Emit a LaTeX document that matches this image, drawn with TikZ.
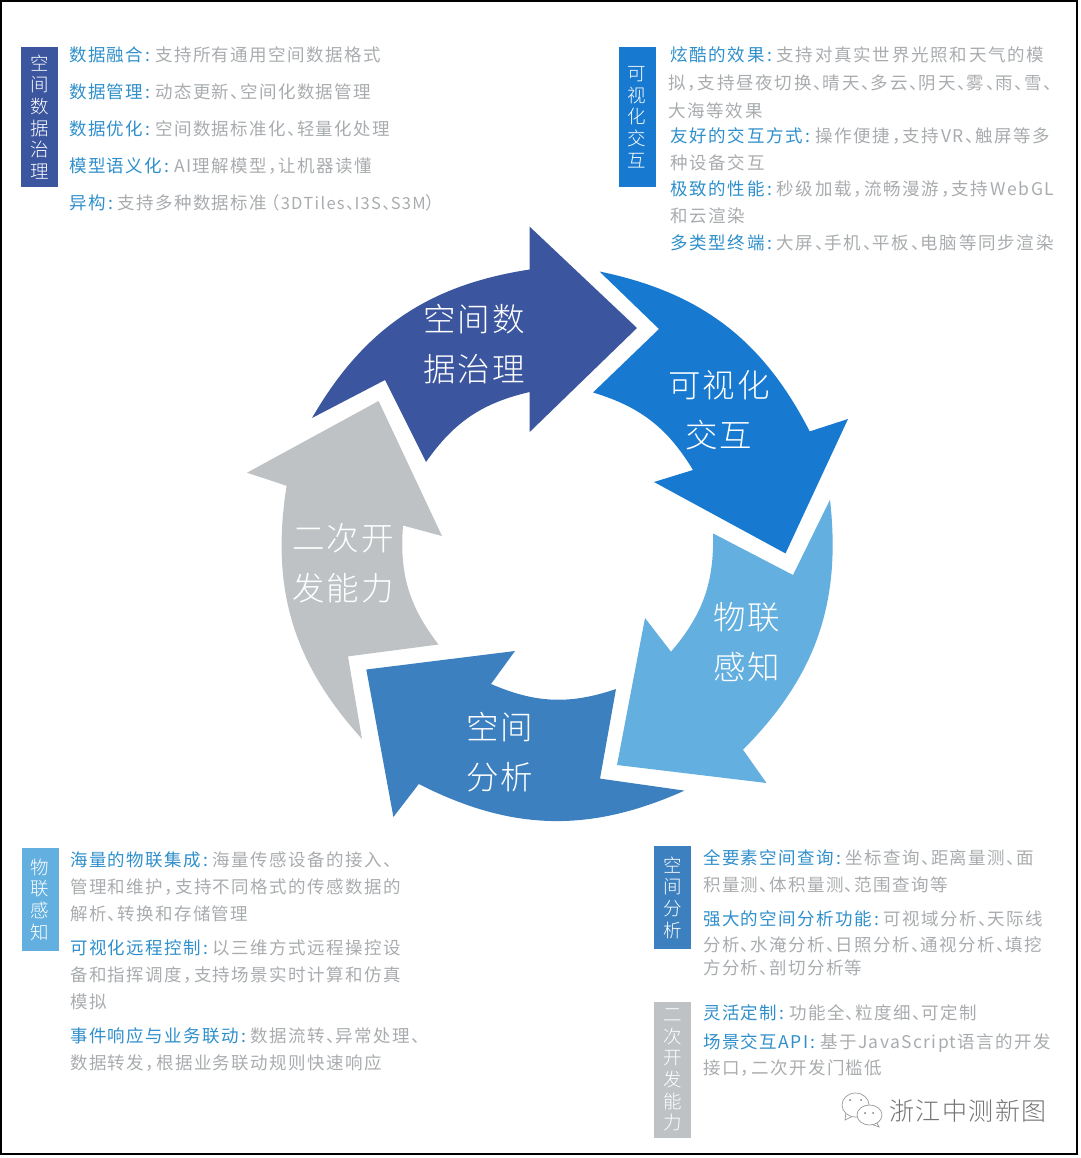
\documentclass[tikz,border=0pt]{standalone}
\usepackage{fontspec}
\usepackage{xcolor}
\usetikzlibrary{positioning}
\newfontfamily\cjk[LetterSpace=8]{Noto Sans CJK SC}
\newfontfamily\cjkwide[LetterSpace=10]{Noto Sans CJK SC}
\newfontfamily\cjkbig[LetterSpace=6]{Noto Sans CJK SC Light}
\definecolor{navy}{HTML}{3B559F}
\definecolor{vivid}{HTML}{1779D0}
\definecolor{sky}{HTML}{63AFDF}
\definecolor{steel}{HTML}{3D80BF}
\definecolor{silver}{HTML}{BEC2C4}
\definecolor{headc}{HTML}{2F8FCB}
\definecolor{bodyc}{HTML}{A9ACAE}
\newcommand{\hd}[1]{\textcolor{headc}{#1\kern2.5pt:}\kern4.5pt}
\catcode`、=\active
\def、{\char"3001\kern-8pt\relax}
\catcode`，=\active
\def，{\char"FF0C\kern-7pt\relax}
\begin{document}
\begin{tikzpicture}[x=1pt,y=-1pt,
  item/.style={anchor=base west,inner sep=0pt,text=bodyc,font=\cjk\fontsize{17.5}{21}\selectfont},
  wideitem/.style={item,font=\cjkwide\fontsize{17.5}{21}\selectfont},
  tagbox/.style={fill=#1,text=white,inner sep=0pt,align=center,minimum width=37pt,font=\cjkbig\fontsize{18.5}{21.7}\selectfont},
  biglabel/.style={text=white,align=center,inner sep=0pt,font=\cjkbig\fontsize{32.5}{50}\selectfont},
  wm/.style={draw=black!40,fill=white,line width=.7pt}]
\useasboundingbox (0,0) rectangle (1080,1158);
\draw[line width=2pt] (1,1) rectangle (1077,1154);
\fill[navy] (312,418) to[bend left=25.6] (529.7,269.5) -- (529.7,226.7) -- (637,328) -- (529.7,432) -- (529.7,392) to[bend right=21] (426,462) -- (385,380) -- cycle;
\fill[vivid] (599.5,271.5) to[bend left=25.6] (809.7,431.4) -- (848,419) -- (785.5,553.4) -- (654,482) -- (693,470) to[bend right=21] (593,392.5) -- (659,329) -- cycle;
\fill[sky] (830,499.7) to[bend left=25.6] (743,749.7) -- (766.5,783) -- (617,765) -- (645,618) -- (671,651.7) to[bend right=21] (713,533.4) -- (793,575) -- cycle;
\fill[steel] (684.5,790.6) to[bend left=25.6] (418.8,784) -- (393.4,817) -- (366.3,669.5) -- (515,651) -- (491,684) to[bend right=21] (616,689) -- (600,778.6) -- cycle;
\fill[silver] (362,739) to[bend left=25.6] (286.6,485.8) -- (247,472.7) -- (378.6,401) -- (442,536) -- (403,525.5) to[bend right=21] (438.5,644.5) -- (348,656.4) -- cycle;
\node[biglabel] (gov) at (474,344) {空间数\\据治理};
\node[biglabel] (vis) at (719,410) {可视化\\交互};
\node[biglabel] (iot) at (747,642) {物联\\感知};
\node[biglabel] (ana) at (500,752) {空间\\分析};
\node[biglabel] (dev) at (343,563) {二次开\\发能力};
\node[tagbox=navy,minimum height=140pt] (tgov) at (39.5,117) {空\\间\\数\\据\\治\\理};
\node[tagbox=vivid,minimum height=140pt] (tvis) at (637,117) {可\\视\\化\\交\\互};
\node[tagbox=sky,minimum height=103pt] (tiot) at (40,899.5) {物\\联\\感\\知};
\node[tagbox=steel,minimum height=103pt] (tana) at (672.5,897.5) {空\\间\\分\\析};
\node[tagbox=silver,minimum height=136pt] (tdev) at (672.5,1070) {二\\次\\开\\发\\能\\力};
\foreach \i/\x/\y/\t in {1/69/61.5/{\hd{数据融合}支持所有通用空间数据格式},
  2/69/98.5/{\hd{数据管理}动态更新、空间化数据管理},
  3/69/135.5/{\hd{数据优化}空间数据标准化、轻量化处理},
  4/69/172.5/{\hd{模型语义化}AI理解模型，让机器读懂},
  5/69/209.5/{\hd{异构}支持多种数据标准\kern-5pt（\kern1pt{\fontsize{16.5}{21}\selectfont 3DTiles、I3S、S3M}）}}
  \node[item] (a\i) at (\x,\y) {\t};
\foreach \i/\x/\y/\t in {1/670/61.5/{\hd{炫酷的效果}支持对真实世界光照和天气的模},
  2/668/89.5/{拟，支持昼夜切换、晴天、多云、阴天、雾、雨、雪、},
  3/668/117.5/{大海等效果},
  4/670/142.5/{\hd{友好的交互方式}操作便捷，支持VR、触屏等多},
  5/670/169.5/{种设备交互},
  6/670/195.5/{\hd{极致的性能}秒级加载，流畅漫游，支持WebGL},
  7/670/222.5/{和云渲染},
  8/670/249.5/{\hd{多类型终端}大屏、手机、平板、电脑等同步渲染}}
  \node[wideitem] (b\i) at (\x,\y) {\t};
\foreach \i/\x/\y/\t in {1/70/866.5/{\hd{海量的物联集成}海量传感设备的接入、},
  2/70/893.5/{管理和维护，支持不同格式的传感数据的},
  3/70/920.5/{解析、转换和存储管理},
  4/70/954.5/{\hd{可视化远程控制}以三维方式远程操控设},
  5/70/981.5/{备和指挥调度，支持场景实时计算和仿真},
  6/70/1008.5/{模拟},
  7/70/1042.5/{\hd{事件响应与业务联动}数据流转、异常处理、},
  8/70/1069.5/{数据转发，根据业务联动规则快速响应}}
  \node[item] (c\i) at (\x,\y) {\t};
\foreach \i/\x/\y/\t in {1/703/864.5/{\hd{全要素空间查询}坐标查询、距离量测、面},
  2/703/891.5/{积量测、体积量测、范围查询等},
  3/703/925.5/{\hd{强大的空间分析功能}可视域分析、天际线},
  4/703/951.5/{分析、水淹分析、日照分析、通视分析、填挖},
  5/703/974.5/{方分析、剖切分析等},
  6/703/1019.5/{\hd{灵活定制}功能全、粒度细、可定制},
  7/703/1048.5/{\hd{场景交互API}基于JavaScript语言的开发},
  8/703/1074.5/{接口，二次开发门槛低}}
  \node[item] (d\i) at (\x,\y) {\t};
\draw[wm] (846,1112) -- (845,1120) -- (853,1116);
\draw[wm] (855.5,1105) ellipse (13.5 and 12);
\draw[wm] (876,1121) -- (879,1127) -- (871,1124);
\draw[wm] (869.5,1115) ellipse (12.5 and 10);
\foreach \x/\y in {850/1100,861/1100,865/1113,873/1113}
  \fill[black!50] (\x,\y) circle (1);
\node[anchor=base west,inner sep=0pt,text=black!55,font=\cjkbig\fontsize{25}{30}\selectfont] (mark) at (889,1120) {浙江中测新图};
\end{tikzpicture}
\end{document}
